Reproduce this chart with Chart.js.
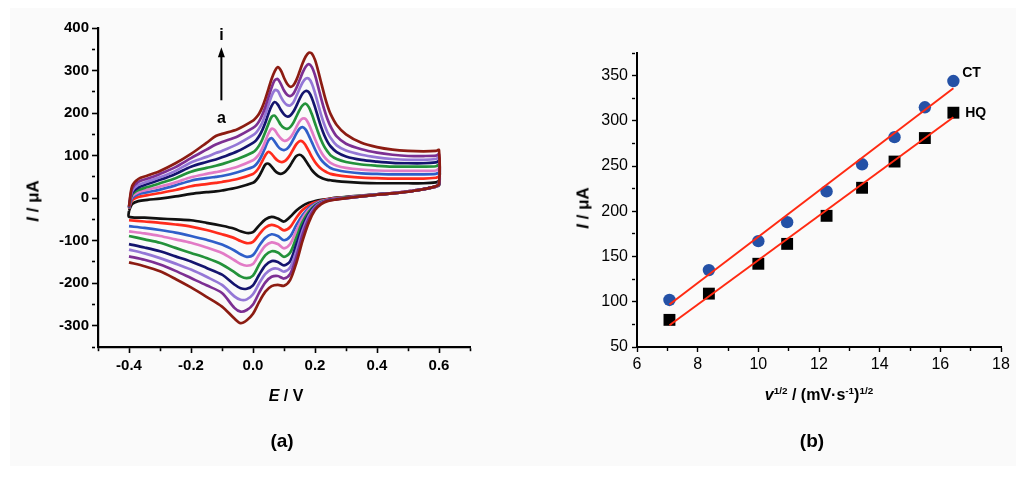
<!DOCTYPE html>
<html><head><meta charset="utf-8">
<script src="https://cdn.jsdelivr.net/npm/chart.js@4.4.1/dist/chart.umd.min.js"></script>
<style>
html,body{margin:0;padding:0;background:#fff;}
#fig{position:relative;width:1024px;height:477px;overflow:hidden;background:#fff;font-family:"Liberation Sans",Arial,sans-serif;}
#bg{position:absolute;left:10px;top:8px;width:1006px;height:458px;background:#fafafa;}
.box{position:absolute;top:0;height:477px;}
.lbl{position:absolute;font-weight:bold;color:#000;white-space:nowrap;font-size:16px;line-height:1;}
.rot{transform:translate(-50%,-50%) rotate(-90deg);}
.ctr{transform:translate(-50%,-50%);}
sup{font-size:0.62em;vertical-align:0.6em;line-height:0;}
</style></head><body>
<div id="fig">
<div id="bg"></div>
<div class="box" style="left:0;width:500px"><canvas id="cv"></canvas></div>
<div class="box" style="left:500px;width:524px"><canvas id="lin"></canvas></div>
<div class="lbl rot" style="left:33px;top:201px;font-size:17px"><i>I</i> / μA</div>
<div class="lbl ctr" style="left:286px;top:396px"><i>E</i> / V</div>
<div class="lbl ctr" style="left:282px;top:440px;font-size:19px">(a)</div>
<div class="lbl rot" style="left:583px;top:208px;font-size:17px"><i>I</i> / μA</div>
<div class="lbl ctr" style="left:819px;top:395px"><i>v</i><sup>1/2</sup> / (mV·s<sup>-1</sup>)<sup>1/2</sup></div>
<div class="lbl ctr" style="left:812px;top:440px;font-size:19px">(b)</div>
</div>
<script>
// ---------- Panel (a): cyclic voltammograms, curves a..i ----------
const E_up = [-0.4,-0.39,-0.37,-0.34,-0.3,-0.25,-0.2,-0.15,-0.12,-0.1,-0.05,
  0,0.01,0.02,0.03,0.04,0.05,0.06,0.07,0.08,0.09,0.1,0.11,0.12,0.13,0.14,0.15,0.16,0.17,0.18,0.19,0.2,0.21,0.22,0.23,0.24,0.25,
  0.27,0.3,0.35,0.4,0.45,0.5,0.55,0.59,0.6];
const E_dn = [0.6,0.59,0.57,0.55,0.5,0.45,0.4,0.35,0.3,0.27,
  0.24,0.22,0.2,0.18,0.16,0.14,0.12,0.1,0.08,0.06,0.04,0.02,0,-0.02,-0.04,-0.06,-0.1,-0.15,-0.2,-0.25,-0.3,-0.35,-0.4];

const curveNames = ['a','b','c','d','e','f','g','h','i'];
const curveColors = ['#111111','#ff2b1c','#2f5fc9','#e27bc6','#23923a','#14146e','#9477d6','#7c2f92','#8c1c12'];

const up_a = [-30,-14,-7,-4,-1,4,10,14,16,18,25, 36,42,52,66,79,81,74,65,59,57,60,67,77,89,99,102,98,88,77,66,58,52,48,45,43,42, 40,38,36,35,35,35,35,37,40];
const up_b = [-25,-5,3,7,12,19,28,33,36,38,45, 57,63,73,87,101,109,104,95,88,85,86,92,102,115,127,134,133,124,111,97,85,76,69,64,60,57, 54,51,48,47,46,46,46,48,50];
const up_c = [-24,0,9,14,20,30,41,47,50,52,61, 73,79,89,103,120,136,141,133,122,115,113,116,125,138,152,163,167,161,147,131,115,101,90,82,76,71, 66,62,58,57,56,56,56,57,59];
const up_d = [-23,4,14,20,27,37,49,57,61,64,74, 89,95,104,117,134,152,163,160,149,140,135,136,142,153,167,180,187,186,174,157,139,122,108,97,89,83, 76,71,67,65,64,64,64,65,68];
const up_e = [-22,8,19,26,35,47,62,71,76,80,92, 108,114,124,138,156,175,191,194,184,172,165,163,167,177,192,207,218,222,214,197,176,155,136,121,110,101, 92,85,79,76,74,74,74,75,78];
const up_f = [-22,12,25,33,43,57,74,85,91,96,110, 130,136,146,160,178,199,217,226,220,207,197,192,194,203,217,233,246,252,249,235,214,190,167,148,133,122, 108,98,90,86,83,82,82,84,87];
const up_g = [-21,16,31,39,49,64,84,97,106,111,127, 148,154,164,178,197,219,240,254,252,238,226,219,218,225,240,257,272,281,281,269,247,221,195,173,155,142, 124,112,102,96,92,90,90,92,95];
const up_h = [-20,22,38,46,57,73,94,114,126,132,145, 165,171,181,196,215,238,260,277,280,268,253,243,240,245,259,277,295,309,315,308,289,262,234,208,186,169, 145,128,115,107,102,99,99,100,103];
const up_i = [-20,28,45,53,64,82,104,130,146,151,162, 182,189,199,214,234,257,280,298,308,300,283,269,262,265,278,297,317,333,342,340,325,300,271,243,218,198, 172,150,130,120,114,111,110,111,113];

const dn_a = [30,27,24,21,16,12,9,6,3,1, -2,-4,-7,-11,-18,-29,-44,-55,-48,-44,-50,-64,-80,-82,-78,-72,-65,-58,-52,-50,-48,-46,-44];
const dn_b = [31,27,24,21,16,12,9,5,2,0, -3,-6,-10,-17,-28,-46,-68,-76,-67,-63,-69,-85,-103,-106,-101,-94,-85,-75,-67,-62,-58,-55,-52];
const dn_c = [31,27,24,21,16,12,9,5,2,-1, -4,-7,-13,-23,-40,-63,-90,-99,-89,-85,-93,-112,-134,-138,-132,-123,-109,-98,-89,-81,-75,-70,-66];
const dn_d = [32,27,24,21,16,12,8,5,1,-1, -4,-8,-15,-27,-47,-76,-108,-118,-108,-104,-112,-132,-155,-159,-155,-146,-129,-116,-105,-97,-89,-83,-78];
const dn_e = [32,28,24,21,15,11,8,4,1,-2, -5,-9,-17,-32,-56,-92,-128,-138,-128,-125,-134,-156,-182,-188,-184,-174,-156,-141,-129,-117,-105,-97,-89];
const dn_f = [32,28,24,21,15,11,8,4,0,-2, -5,-10,-19,-37,-66,-108,-148,-158,-150,-148,-158,-180,-205,-213,-212,-203,-180,-164,-149,-137,-125,-116,-108];
const dn_g = [33,28,24,21,15,11,8,4,0,-2, -6,-11,-21,-42,-76,-124,-163,-173,-166,-167,-178,-200,-226,-238,-239,-231,-204,-185,-168,-154,-141,-130,-121];
const dn_h = [33,28,24,21,15,11,8,4,0,-3, -6,-12,-24,-48,-86,-138,-178,-189,-183,-185,-198,-222,-250,-263,-267,-258,-223,-205,-188,-171,-156,-145,-137];
const dn_i = [33,28,24,21,15,11,8,4,0,-3, -7,-14,-28,-57,-100,-152,-192,-206,-204,-207,-220,-244,-272,-287,-294,-283,-255,-232,-210,-190,-172,-160,-151];

const upSets = [up_a,up_b,up_c,up_d,up_e,up_f,up_g,up_h,up_i];
const dnSets = [dn_a,dn_b,dn_c,dn_d,dn_e,dn_f,dn_g,dn_h,dn_i];
const closedLoop = [true,false,false,false,false,false,false,false,false];

// arrow a -> i
const arrowE = -0.102, arrowFrom = 230, arrowTo = 355, labelI = 383, labelA = 187;

// ---------- Panel (b): peak current vs sqrt(scan rate) ----------
const sqrtV = [7.07, 8.37, 10.0, 10.95, 12.25, 13.42, 14.49, 15.49, 16.43];
const ipCT  = [102, 135, 167, 188, 222, 252, 282, 315, 344];
const ipHQ  = [80, 109, 142, 164, 195, 226, 255, 281, 309];
const fitX  = [7.07, 16.43];
const fitCT = [97, 336];
const fitHQ = [74, 304];

const yTicksA = [-350, 400, 50];
const xTicksA = [-0.5, 0.7, 0.1];
const yTicksB = [50, 375, 25];
const xTicksB = [6, 18, 1];

Chart.defaults.font.family = '"Liberation Sans", Arial, sans-serif';
Chart.defaults.color = '#000';
Chart.defaults.animation = false;

function loop(k){
  const up = upSets[k], dn = dnSets[k];
  const pts = E_up.map((e,i)=>({x:e,y:up[i]})).concat(E_dn.map((e,i)=>({x:e,y:dn[i]})));
  if (closedLoop[k]) pts.push({x:E_up[0], y:up[0]});
  return pts;
}

const cvDatasets = curveNames.map((n,k)=>({
  label: n, data: loop(k), borderColor: curveColors[k], backgroundColor: curveColors[k],
  borderWidth: 2.7, pointRadius: 0, tension: 0.3, fill: false, order: 9-k
}));

const cvDecor = {
  id:'cvDecor',
  afterDatasetsDraw(chart){
    const {ctx, scales:{x,y}} = chart;
    const ax = x.getPixelForValue(arrowE);
    const y0 = y.getPixelForValue(arrowFrom), y1 = y.getPixelForValue(arrowTo);
    ctx.save();
    ctx.strokeStyle='#000'; ctx.fillStyle='#000'; ctx.lineWidth=2;
    ctx.beginPath(); ctx.moveTo(ax,y0); ctx.lineTo(ax,y1+6); ctx.stroke();
    ctx.beginPath(); ctx.moveTo(ax,y1); ctx.lineTo(ax-3.5,y1+10); ctx.lineTo(ax+3.5,y1+10); ctx.closePath(); ctx.fill();
    ctx.font='bold 16px "Liberation Sans", Arial';
    ctx.textAlign='center'; ctx.textBaseline='middle';
    ctx.fillText('i', ax, y.getPixelForValue(labelI));
    ctx.fillText('a', ax, y.getPixelForValue(labelA));
    ctx.restore();
  }
};

function minorDash(majorTest){
  return (c)=> majorTest(c.tick ? c.tick.value : 0) ? [] : [3, 100];
}

new Chart(document.getElementById('cv'), {
  type: 'line',
  data: { datasets: cvDatasets },
  options: {
    responsive: true, maintainAspectRatio: false,
    layout: { padding: { left: 0, right: 30, top: 28, bottom: 0 } },
    plugins: { legend: { display: false }, tooltip: { enabled: false } },
    scales: {
      x: {
        type: 'linear', min: xTicksA[0], max: xTicksA[1],
        afterFit(s){ s.height = 130; },
        border: { display: true, color: '#000', width: 2.2 },
        grid: { drawOnChartArea: false, tickLength: 6, tickColor: '#000', tickWidth: 1.6,
                tickBorderDash: minorDash(v => Math.round(v*10)%2 === 0) },
        ticks: { stepSize: xTicksA[2], autoSkip: false, maxRotation: 0, padding: 4,
                 font: { size: 15, weight: 'bold' },
                 callback(v){ const k = Math.round(v*10); return (k%2===0 && k>-5 && k<7) ? (k/10).toFixed(1) : ''; } }
      },
      y: {
        type: 'linear', min: yTicksA[0], max: yTicksA[1],
        afterFit(s){ s.width = 98; },
        border: { display: true, color: '#000', width: 2.2 },
        grid: { drawOnChartArea: false, tickLength: 6, tickColor: '#000', tickWidth: 1.6,
                tickBorderDash: minorDash(v => Math.round(v)%100 === 0) },
        ticks: { stepSize: yTicksA[2], autoSkip: false, padding: 3,
                 font: { size: 15, weight: 'bold' },
                 callback(v){ return Math.round(v)%100===0 ? String(Math.round(v)) : ''; } }
      }
    }
  },
  plugins: [cvDecor]
});

const linDecor = {
  id:'linDecor',
  afterDatasetsDraw(chart){
    const {ctx, scales:{x,y}} = chart;
    ctx.save();
    ctx.fillStyle='#000';
    ctx.font='bold 14px "Liberation Sans", Arial';
    ctx.textAlign='left'; ctx.textBaseline='middle';
    ctx.fillText('CT', x.getPixelForValue(16.72), y.getPixelForValue(353));
    ctx.fillText('HQ', x.getPixelForValue(16.82), y.getPixelForValue(309));
    ctx.restore();
  }
};

new Chart(document.getElementById('lin'), {
  type: 'scatter',
  data: { datasets: [
    { label: 'CT fit', type: 'line', data: fitX.map((v,i)=>({x:v,y:fitCT[i]})), borderColor: '#ff2a12', borderWidth: 2, pointRadius: 0, order: 0 },
    { label: 'HQ fit', type: 'line', data: fitX.map((v,i)=>({x:v,y:fitHQ[i]})), borderColor: '#ff2a12', borderWidth: 2, pointRadius: 0, order: 0 },
    { label: 'CT', data: sqrtV.map((v,i)=>({x:v,y:ipCT[i]})), pointStyle: 'circle', pointRadius: 6.2, backgroundColor: '#2451a6', borderColor: '#2451a6', borderWidth: 0, order: 1 },
    { label: 'HQ', data: sqrtV.map((v,i)=>({x:v,y:ipHQ[i]})), pointStyle: 'rect', pointRadius: 8.4, backgroundColor: '#000', borderColor: '#000', borderWidth: 0, order: 1 }
  ] },
  options: {
    responsive: true, maintainAspectRatio: false,
    layout: { padding: { left: 0, right: 23, top: 53, bottom: 0 } },
    plugins: { legend: { display: false }, tooltip: { enabled: false } },
    scales: {
      x: {
        type: 'linear', min: xTicksB[0], max: xTicksB[1],
        afterFit(s){ s.height = 130; },
        border: { display: true, color: '#000', width: 2 },
        grid: { drawOnChartArea: false, tickLength: 5, tickColor: '#000', tickWidth: 1.4,
                tickBorderDash: minorDash(v => Math.round(v)%2 === 0) },
        ticks: { stepSize: xTicksB[2], autoSkip: false, maxRotation: 0, padding: 3,
                 font: { size: 16 },
                 callback(v){ return Math.round(v)%2===0 ? String(Math.round(v)) : ''; } }
      },
      y: {
        type: 'linear', min: yTicksB[0], max: yTicksB[1],
        afterFit(s){ s.width = 137; },
        border: { display: true, color: '#000', width: 2 },
        grid: { drawOnChartArea: false, tickLength: 5, tickColor: '#000', tickWidth: 1.4,
                tickBorderDash: minorDash(v => Math.round(v)%50 === 0) },
        ticks: { stepSize: yTicksB[2], autoSkip: false, padding: 4,
                 font: { size: 16 },
                 callback(v){ return Math.round(v)%50===0 ? String(Math.round(v)) : ''; } }
      }
    }
  },
  plugins: [linDecor]
});
</script>
</body></html>
